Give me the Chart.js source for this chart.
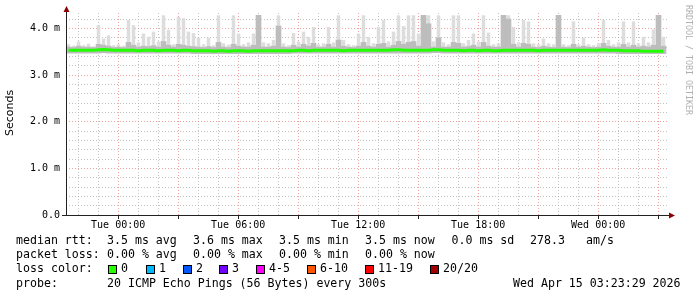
<!DOCTYPE html>
<html><head><meta charset="utf-8">
<script src="https://cdn.jsdelivr.net/npm/chart.js@4/dist/chart.umd.min.js"></script>
<style>html,body{margin:0;padding:0;background:#fff;}canvas{display:block;}</style>
</head><body>
<canvas id="c" width="697" height="297"></canvas>
<script>
// ---- data (milliseconds) ----
const startClockHour = 21 + 23/60 + 29/3600;   // Mon 21:23:29, 30 h window
const binHours = 0.25;
const smokeMax = [
 3.66,3.63,3.72,3.64,3.67,3.62,4.07,3.78,3.85,3.64,
 3.66,3.63,4.18,4.07,3.70,3.89,3.82,3.93,3.72,4.28,
 3.97,3.66,4.25,4.22,3.93,3.90,3.80,3.66,3.80,3.64,
 4.28,3.68,3.65,4.28,3.89,3.66,3.70,3.89,4.28,3.70,
 3.68,3.75,4.28,3.68,3.64,3.90,3.72,3.93,3.82,4.03,
 3.66,3.68,4.03,3.70,4.28,3.75,3.66,3.64,3.89,4.28,
 3.82,3.68,4.03,4.18,3.72,3.93,4.28,4.05,4.28,4.28,
 3.89,4.28,4.28,3.72,4.28,3.70,3.66,4.28,4.28,3.68,
 3.75,3.89,3.72,4.28,3.91,3.66,3.68,4.28,4.28,4.03,
 3.70,4.18,4.15,3.68,3.66,3.78,3.68,3.66,4.28,3.66,
 3.64,4.15,3.66,3.80,3.66,3.64,3.68,4.18,3.75,3.66,
 3.70,4.15,3.70,4.15,3.68,3.82,3.70,3.98,4.28,3.82];
const smokeMid = [
 3.60,3.59,3.62,3.60,3.60,3.59,3.66,3.64,3.62,3.59,
 3.60,3.59,3.70,3.64,3.60,3.62,3.61,3.63,3.60,3.72,
 3.64,3.60,3.66,3.64,3.62,3.61,3.60,3.59,3.61,3.59,
 3.70,3.60,3.59,3.66,3.62,3.60,3.60,3.64,4.28,3.60,
 3.60,3.62,4.05,3.60,3.59,3.64,3.60,3.66,3.62,3.68,
 3.60,3.60,3.66,3.60,3.75,3.62,3.60,3.59,3.62,3.70,
 3.62,3.60,3.66,3.68,3.60,3.64,3.72,3.66,3.70,3.72,
 3.62,4.28,4.10,3.60,3.80,3.60,3.60,3.70,3.68,3.60,
 3.61,3.64,3.60,3.70,3.62,3.60,3.60,4.28,4.20,3.66,
 3.60,3.68,3.66,3.60,3.59,3.62,3.60,3.59,4.28,3.60,
 3.59,3.66,3.60,3.62,3.60,3.59,3.60,3.68,3.62,3.60,
 3.60,3.66,3.60,3.64,3.60,3.62,3.60,3.64,4.28,3.62];
const smokeMin = [
 3.47,3.47,3.47,3.47,3.47,3.47,3.47,3.48,3.47,3.47,
 3.47,3.47,3.47,3.47,3.47,3.47,3.47,3.47,3.47,3.47,
 3.47,3.47,3.47,3.47,3.47,3.46,3.46,3.46,3.46,3.46,
 3.46,3.46,3.46,3.46,3.46,3.46,3.46,3.46,3.46,3.46,
 3.46,3.46,3.46,3.46,3.46,3.47,3.47,3.47,3.47,3.47,
 3.47,3.47,3.47,3.47,3.47,3.47,3.47,3.47,3.47,3.47,
 3.47,3.47,3.47,3.47,3.47,3.47,3.47,3.47,3.47,3.47,
 3.47,3.47,3.47,3.48,3.48,3.47,3.47,3.47,3.47,3.47,
 3.47,3.47,3.47,3.47,3.47,3.47,3.47,3.47,3.47,3.47,
 3.47,3.47,3.47,3.47,3.47,3.47,3.47,3.47,3.47,3.47,
 3.47,3.47,3.47,3.47,3.47,3.47,3.47,3.47,3.47,3.47,
 3.46,3.46,3.46,3.46,3.46,3.46,3.46,3.46,3.46,3.46];
const medianRtt = [
 3.53,3.53,3.53,3.53,3.53,3.53,3.54,3.55,3.54,3.53,
 3.53,3.53,3.53,3.53,3.52,3.53,3.53,3.53,3.52,3.53,
 3.53,3.53,3.52,3.53,3.53,3.52,3.52,3.52,3.52,3.51,
 3.52,3.52,3.51,3.52,3.52,3.52,3.51,3.52,3.52,3.52,
 3.52,3.52,3.52,3.52,3.52,3.52,3.53,3.53,3.52,3.53,
 3.53,3.53,3.53,3.53,3.53,3.52,3.53,3.53,3.53,3.53,
 3.53,3.53,3.53,3.53,3.53,3.54,3.54,3.53,3.53,3.53,
 3.53,3.53,3.53,3.54,3.54,3.53,3.53,3.53,3.53,3.52,
 3.53,3.53,3.52,3.53,3.53,3.52,3.52,3.53,3.53,3.53,
 3.53,3.53,3.53,3.53,3.52,3.53,3.53,3.53,3.53,3.53,
 3.53,3.53,3.53,3.53,3.53,3.53,3.53,3.54,3.53,3.53,
 3.53,3.52,3.52,3.52,3.52,3.51,3.51,3.51,3.51,3.51];
const yTickValues = [0,0.2,0.4,0.6,0.8,1,1.2,1.4,1.6,1.8,2,2.2,2.4,2.6,2.8,3,3.2,3.4,3.6,3.8,4,4.2];
const xTickHours = [22,23,24,25,26,27,28,29,30,31,32,33,34,35,36,37,38,39,40,41,42,43,44,45,46,47,48,49,50,51];
const xTickLabels = {24:'Tue 00:00',30:'Tue 06:00',36:'Tue 12:00',42:'Tue 18:00',48:'Wed 00:00'};
const rttStats = ['3.5 ms avg','3.6 ms max','3.5 ms min','3.5 ms now','0.0 ms sd','278.3','am/s'];
const lossStats = ['0.00 % avg','0.00 % max','0.00 % min','0.00 % now'];
const lossBins = ['0','1','2','3','4-5','6-10','11-19','20/20'];
const lossColors = ['#26ff00','#00b8ff','#0059ff','#7400ff','#ff00ff','#ff5500','#ff0000','#a10000'];
const probeText = '20 ICMP Echo Pings (56 Bytes) every 300s';
const dateText = 'Wed Apr 15 03:23:29 2026';

// ---- layout ----
const times = smokeMax.map((_, i) => i * binHours + binHours / 2);
const MONO = '"DejaVu Sans Mono", monospace';
const GRID_GREY = 'rgba(170,170,170,0.7)';
const GRID_RED = 'rgba(225,90,90,0.55)';
const isInt = v => Math.abs(v - Math.round(v)) < 1e-6;

const decor = {
  id: 'decor',
  afterDraw(chart) {
    const {ctx, chartArea: a, scales: {x}} = chart;
    ctx.save();
    ctx.strokeStyle = '#222'; ctx.lineWidth = 1;
    ctx.beginPath();
    ctx.moveTo(a.left + 0.5, a.bottom + 0.5); ctx.lineTo(a.left + 0.5, a.top - 2);
    ctx.moveTo(a.left - 4, a.bottom + 0.5); ctx.lineTo(a.right + 1, a.bottom + 0.5);
    xTickHours.forEach(h => {
      if (h % 3 === 0) {
        const px = Math.round(x.getPixelForValue(h - startClockHour)) + 0.5;
        ctx.moveTo(px, a.bottom + 1); ctx.lineTo(px, a.bottom + 4);
      }
    });
    ctx.stroke();
    ctx.fillStyle = '#8b0000';
    ctx.beginPath();
    ctx.moveTo(a.left + 0.5 - 3, a.top - 1); ctx.lineTo(a.left + 0.5 + 3, a.top - 1); ctx.lineTo(a.left + 0.5, a.top - 7);
    ctx.closePath(); ctx.fill();
    ctx.beginPath();
    ctx.moveTo(a.right, a.bottom + 0.5 - 3); ctx.lineTo(a.right, a.bottom + 0.5 + 3); ctx.lineTo(a.right + 6, a.bottom + 0.5);
    ctx.closePath(); ctx.fill();

    ctx.fillStyle = '#000';
    ctx.save();
    ctx.translate(10, 113); ctx.rotate(-Math.PI / 2);
    ctx.font = '11px "DejaVu Sans", sans-serif';
    ctx.textAlign = 'center'; ctx.textBaseline = 'middle';
    ctx.fillText('Seconds', 0, 0);
    ctx.restore();
    ctx.save();
    ctx.translate(688.5, 5); ctx.rotate(Math.PI / 2);
    ctx.font = '8.3px ' + MONO; ctx.fillStyle = '#b0b0b0';
    ctx.textAlign = 'left'; ctx.textBaseline = 'middle';
    ctx.fillText('RRDTOOL / TOBI OETIKER', 0, 0);
    ctx.restore();

    ctx.font = '11.6px ' + MONO; ctx.fillStyle = '#000';
    ctx.textAlign = 'left'; ctx.textBaseline = 'middle';
    const row1 = 241, row2 = 255, row3 = 269, row4 = 284;
    const rttX = [107, 193, 279, 365, 451.5, 530, 586];
    ctx.fillText('median rtt:', 16, row1);
    rttStats.forEach((s, i) => ctx.fillText(s, rttX[i], row1));
    ctx.fillText('packet loss:', 16, row2);
    lossStats.forEach((s, i) => ctx.fillText(s, rttX[i], row2));
    ctx.fillText('loss color:', 16, row3);
    const boxX = [108, 146, 183, 219, 256, 307, 365, 430];
    lossBins.forEach((s, i) => {
      ctx.fillStyle = lossColors[i];
      ctx.fillRect(boxX[i], row3 - 4, 8, 8);
      ctx.strokeStyle = '#000';
      ctx.strokeRect(boxX[i] + 0.5, row3 - 4 + 0.5, 8, 8);
      ctx.fillStyle = '#000';
      ctx.fillText(s, boxX[i] + 13, row3);
    });
    ctx.fillText('probe:', 16, row4);
    ctx.fillText(probeText, 107, row4);
    ctx.fillText(dateText, 513, row4);
    ctx.restore();
  }
};

new Chart(document.getElementById('c'), {
  type: 'bar',
  data: {
    datasets: [
      { type: 'line', label: 'median rtt', data: times.map((t, i) => ({x: t, y: medianRtt[i]})),
        borderColor: '#22ff00', borderWidth: 3, pointRadius: 0, tension: 0, order: 0 },
      { type: 'bar', label: 'smoke inner', data: times.map((t, i) => ({x: t, y: [smokeMin[i], smokeMid[i]]})),
        backgroundColor: '#bdbdbd', borderWidth: 0, grouped: false, barPercentage: 1, categoryPercentage: 1, order: 1 },
      { type: 'bar', label: 'smoke outer', data: times.map((t, i) => ({x: t, y: [smokeMin[i], smokeMax[i]]})),
        backgroundColor: '#dddddd', borderWidth: 0, grouped: false, barPercentage: 0.7, categoryPercentage: 1, order: 2 }
    ]
  },
  options: {
    responsive: false, animation: false, events: [],
    devicePixelRatio: 1,
    layout: { padding: { left: 0, right: 28, top: 13, bottom: 0 } },
    plugins: { legend: { display: false }, tooltip: { enabled: false } },
    scales: {
      x: {
        type: 'linear', min: 0, max: 30.15, offset: false, z: 1,
        afterBuildTicks: s => { s.ticks = xTickHours.map(h => ({ value: h - startClockHour })); },
        afterFit: s => { s.height = 82; s.paddingLeft = 0; s.paddingRight = 0; },
        ticks: { autoSkip: false, maxRotation: 0, minRotation: 0, padding: 4, color: '#000',
          font: { family: MONO, size: 10 },
          callback: v => xTickLabels[Math.round(v + startClockHour)] || '' },
        grid: { offset: false, drawTicks: false, lineWidth: 1,
          color: c => (c.tick && Math.round(c.tick.value + startClockHour) % 3 === 0) ? GRID_RED : GRID_GREY },
        border: { display: false, dash: [1, 2] }
      },
      y: {
        type: 'linear', min: 0, max: 4.33, z: 1,
        afterBuildTicks: s => { s.ticks = yTickValues.map(v => ({ value: v })); },
        afterFit: s => { s.width = 66; s.paddingTop = 0; s.paddingBottom = 0; },
        ticks: { autoSkip: false, padding: 6, color: '#000', font: { family: MONO, size: 10 },
          callback: v => isInt(v) ? (v === 0 ? '0.0' : v.toFixed(1) + ' m') : '' },
        grid: { drawTicks: false, lineWidth: 1,
          color: c => (c.tick && isInt(c.tick.value)) ? GRID_RED : GRID_GREY },
        border: { display: false, dash: [1, 2] }
      }
    }
  },
  plugins: [decor]
});
</script>
</body></html>
